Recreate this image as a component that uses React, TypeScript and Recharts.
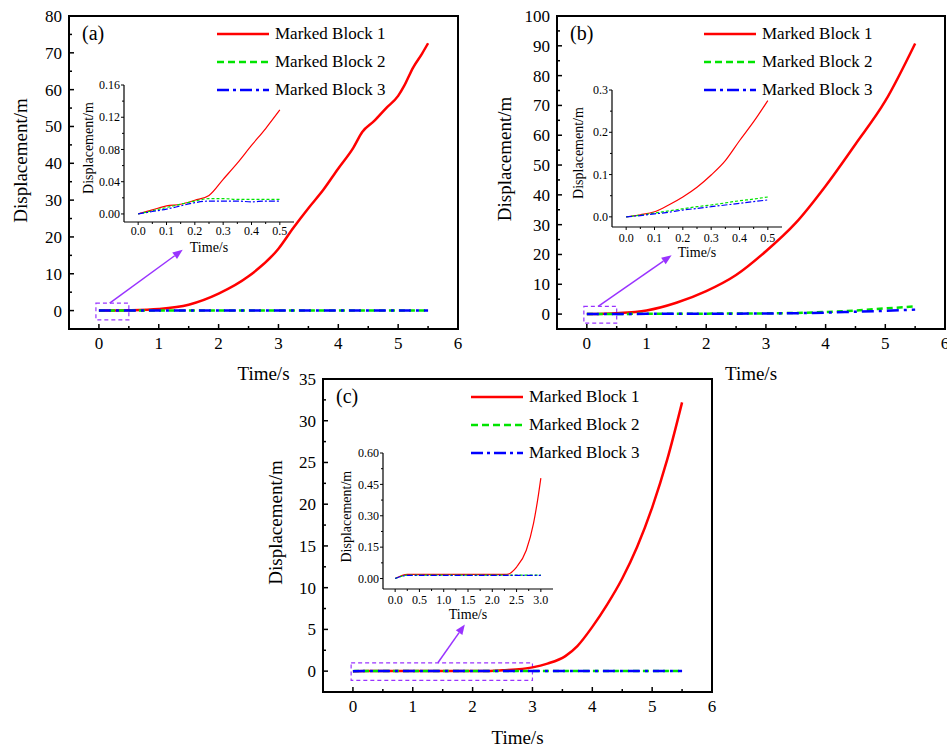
import React from "react";
import {
  LineChart,
  Line,
  XAxis,
  YAxis,
  ReferenceArea,
  ReferenceLine,
  Legend,
} from "recharts";

const FONT = "'Liberation Serif', 'Times New Roman', serif";
const PURPLE = "#9933ff";

// ---- main panel (a)
const timeA1 = [0, 0.5, 1, 1.5, 2, 2.5, 3, 3.25, 3.5, 3.75, 4, 4.25, 4.4, 4.6, 4.8, 5, 5.1, 5.25, 5.4, 5.5];
const block1A = [0, 0.1, 0.45, 1.6, 4.6, 9.3, 16.8, 22.5, 27.8, 32.8, 38.6, 44.2, 48.5, 51.5, 55, 58.3, 61, 66, 69.8, 72.6];
const timeA23 = [0, 0.25, 1, 2, 3, 4, 5, 5.5];
const block2A = [0, 0.02, 0.02, 0.02, 0.02, 0.02, 0.02, 0.02];
const block3A = [0, 0.016, 0.016, 0.016, 0.016, 0.016, 0.016, 0.016];

// ---- main panel (b)
const timeB1 = [0, 0.5, 1, 1.5, 2, 2.5, 3, 3.5, 4, 4.5, 5, 5.5];
const block1B = [0, 0.28, 1.2, 3.8, 7.7, 13.1, 21.1, 30.6, 43, 57, 71.5, 90.8];
const timeB23 = [0, 0.5, 1, 2, 3, 3.5, 4, 4.5, 5, 5.5];
const block2B = [0, 0.05, 0.1, 0.15, 0.25, 0.4, 0.7, 1.2, 1.9, 2.6];
const block3B = [0, 0.04, 0.08, 0.12, 0.2, 0.3, 0.5, 0.8, 1.1, 1.5];

// ---- main panel (c)
const timeC1 = [0, 0.25, 1, 2, 2.3, 2.5, 3, 3.25, 3.55, 3.75, 4, 4.25, 4.5, 4.75, 5, 5.25, 5.5];
const block1C = [0, 0.02, 0.02, 0.02, 0.02, 0.1, 0.45, 0.9, 1.8, 3.0, 5.3, 8.0, 11.1, 14.9, 19.6, 25.3, 32.2];
const timeC23 = [0, 0.25, 1, 2, 3, 4, 5, 5.5];
const block2C = [0, 0.015, 0.015, 0.015, 0.015, 0.015, 0.015, 0.015];
const block3C = [0, 0.014, 0.014, 0.014, 0.014, 0.014, 0.014, 0.014];

// ---- insets (a), (b)
const insetTimeAB = [0, 0.05, 0.1, 0.15, 0.2, 0.25, 0.3, 0.35, 0.4, 0.45, 0.5];
const inset1A = [0, 0.005, 0.01, 0.012, 0.017, 0.023, 0.043, 0.063, 0.085, 0.106, 0.129];
const inset2A = [0, 0.004, 0.008, 0.012, 0.016, 0.019, 0.019, 0.018, 0.018, 0.018, 0.018];
const inset3A = [0, 0.003, 0.006, 0.01, 0.014, 0.016, 0.016, 0.016, 0.015, 0.016, 0.016];
const inset1B = [0, 0.005, 0.012, 0.028, 0.047, 0.07, 0.099, 0.133, 0.18, 0.225, 0.275];
const inset2B = [0, 0.004, 0.009, 0.014, 0.019, 0.024, 0.028, 0.033, 0.038, 0.042, 0.047];
const inset3B = [0, 0.003, 0.007, 0.011, 0.016, 0.02, 0.024, 0.028, 0.032, 0.036, 0.04];

// ---- inset (c)
const insetTimeC = [0, 0.25, 0.5, 1, 1.5, 2, 2.3, 2.5, 2.7, 2.85, 2.95, 3.0];
const inset1C = [0, 0.02, 0.02, 0.02, 0.02, 0.02, 0.02, 0.055, 0.135, 0.265, 0.4, 0.48];
const inset2C = [0, 0.016, 0.016, 0.016, 0.016, 0.016, 0.016, 0.016, 0.016, 0.016, 0.016, 0.016];
const inset3C = [0, 0.015, 0.015, 0.015, 0.015, 0.015, 0.015, 0.015, 0.015, 0.015, 0.015, 0.015];

// ---- ticks
const mainXTicks = [0, 0.5, 1, 1.5, 2, 2.5, 3, 3.5, 4, 4.5, 5, 5.5, 6];
const yTicksA = [0, 5, 10, 15, 20, 25, 30, 35, 40, 45, 50, 55, 60, 65, 70, 75, 80];
const yTicksB = [0, 5, 10, 15, 20, 25, 30, 35, 40, 45, 50, 55, 60, 65, 70, 75, 80, 85, 90, 95, 100];
const yTicksC = [0, 2.5, 5, 7.5, 10, 12.5, 15, 17.5, 20, 22.5, 25, 27.5, 30, 32.5, 35];
const insetXTicksAB = [0, 0.05, 0.1, 0.15, 0.2, 0.25, 0.3, 0.35, 0.4, 0.45, 0.5];
const insetYTicksA = [0, 0.02, 0.04, 0.06, 0.08, 0.1, 0.12, 0.14, 0.16];
const insetYTicksB = [0, 0.05, 0.1, 0.15, 0.2, 0.25, 0.3];
const insetXTicksC = [0, 0.25, 0.5, 0.75, 1, 1.25, 1.5, 1.75, 2, 2.25, 2.5, 2.75, 3];
const insetYTicksC = [0, 0.075, 0.15, 0.225, 0.3, 0.375, 0.45, 0.525, 0.6];

const SERIES = [
  { name: "Marked Block 1", color: "#ff0000", dash: undefined, legendDash: undefined, insetDash: undefined },
  { name: "Marked Block 2", color: "#00e400", dash: "6 4", legendDash: "7 4", insetDash: "3 2" },
  { name: "Marked Block 3", color: "#0000ff", dash: "12 5 3 5", legendDash: "12 4 3 4", insetDash: "6 2 2 2" },
];

type Pt = { t: number; v: number };
const pts = (t: number[], v: number[]): Pt[] => t.map((x, i) => ({ t: x, v: v[i] }));

interface TickCfg {
  side: "left" | "bottom";
  gap: number;
  step: number;
  inward: boolean;
  major: number;
  minor: number;
  size: number;
  digits: number;
  width: number;
}

const makeTick = (c: TickCfg) => (p: any) => {
  const x = Number(p.x);
  const y = Number(p.y);
  const v = Number(p.payload?.value);
  const isMajor = Math.abs(v / c.step - Math.round(v / c.step)) < 1e-6;
  const len = isMajor ? c.major : c.minor;
  const d = c.inward ? 1 : -1;
  const label = isMajor ? v.toFixed(c.digits) : "";
  if (c.side === "left") {
    const ax = x + c.gap;
    return (
      <g>
        <line x1={ax} y1={y} x2={ax + d * len} y2={y} stroke="#000" strokeWidth={c.width} />
        {label && (
          <text x={x} y={y} dy="0.35em" textAnchor="end" fontSize={c.size} fontFamily={FONT} fill="#000">
            {label}
          </text>
        )}
      </g>
    );
  }
  const ay = y - c.gap;
  return (
    <g>
      <line x1={x} y1={ay} x2={x} y2={ay - d * len} stroke="#000" strokeWidth={c.width} />
      {label && (
        <text x={x} y={y} dy="0.71em" textAnchor="middle" fontSize={c.size} fontFamily={FONT} fill="#000">
          {label}
        </text>
      )}
    </g>
  );
};

const yTitle = (text: string, dx: number, dy: number, size: number) => (p: any) => {
  const vb = p.viewBox || {};
  const cx = vb.x + dx;
  const cy = vb.y + vb.height / 2 + dy;
  return (
    <text x={cx} y={cy} transform={`rotate(-90 ${cx} ${cy})`} textAnchor="middle" dominantBaseline="central" fontSize={size} fontFamily={FONT} fill="#000">
      {text}
    </text>
  );
};

const xTitle = (text: string, dy: number, size: number) => (p: any) => {
  const vb = p.viewBox || {};
  return (
    <text x={vb.x + vb.width / 2} y={vb.y + dy} textAnchor="middle" dominantBaseline="central" fontSize={size} fontFamily={FONT} fill="#000">
      {text}
    </text>
  );
};

const Arrow = (p: any) => {
  const { x1, y1, x2, y2 } = p;
  if ([x1, y1, x2, y2].some((v) => typeof v !== "number" || isNaN(v))) return <g />;
  const a = Math.atan2(y2 - y1, x2 - x1);
  const L = 10;
  const W = 4;
  const bx = x2 - L * Math.cos(a);
  const by = y2 - L * Math.sin(a);
  const head = `${x2},${y2} ${bx - W * Math.sin(a)},${by + W * Math.cos(a)} ${bx + W * Math.sin(a)},${by - W * Math.cos(a)}`;
  return (
    <g>
      <line x1={x1} y1={y1} x2={bx} y2={by} stroke={PURPLE} strokeWidth={1.5} />
      <polygon points={head} fill={PURPLE} />
    </g>
  );
};

const legendContent = () => (
  <div style={{ fontFamily: FONT, fontSize: 17, color: "#000" }}>
    {SERIES.map((s) => (
      <div key={s.name} style={{ display: "flex", alignItems: "center", height: 28, whiteSpace: "nowrap" }}>
        <svg width={52} height={10}>
          <line x1={0} y1={5} x2={52} y2={5} stroke={s.color} strokeWidth={2.5} strokeDasharray={s.legendDash} />
        </svg>
        <span style={{ marginLeft: 6 }}>{s.name}</span>
      </div>
    ))}
  </div>
);

const X_DOMAIN: [number, number] = [-0.5, 6];

interface PanelProps {
  left: number;
  top: number;
  width: number;
  height: number;
  marginTop: number;
  marginRight: number;
  yWidth: number;
  xHeight: number;
  yDomain: [number, number];
  yTicks: number[];
  yStep: number;
  series: Pt[][];
  box: { x1: number; x2: number; y1: number; y2: number };
  arrow: { x: number; y: number }[];
  tag: string;
  legendLeft: number;
  legendTop: number;
  yTitleDx: number;
  yTitleDy: number;
  xTitleDy: number;
}

const Panel = (p: PanelProps) => (
  <div style={{ position: "absolute", left: p.left, top: p.top }}>
    <LineChart width={p.width} height={p.height} margin={{ top: p.marginTop, right: p.marginRight, left: 0, bottom: 0 }}>
      <XAxis
        type="number"
        dataKey="t"
        domain={X_DOMAIN}
        allowDataOverflow
        ticks={mainXTicks}
        interval={0}
        tickSize={0}
        tickMargin={8}
        tickLine={false}
        axisLine={false}
        height={p.xHeight}
        tick={makeTick({ side: "bottom", gap: 8, step: 1, inward: true, major: 5, minor: 3, size: 17, digits: 0, width: 1.5 })}
        label={{ content: xTitle("Time/s", p.xTitleDy, 19) }}
      />
      <YAxis
        type="number"
        domain={p.yDomain}
        allowDataOverflow
        ticks={p.yTicks}
        interval={0}
        tickSize={0}
        tickMargin={7}
        tickLine={false}
        axisLine={false}
        width={p.yWidth}
        tick={makeTick({ side: "left", gap: 7, step: p.yStep, inward: true, major: 5, minor: 3, size: 17, digits: 0, width: 1.5 })}
        label={{ content: yTitle("Displacement/m", p.yTitleDx, p.yTitleDy, 19) }}
      />
      <ReferenceArea
        x1={X_DOMAIN[0]}
        x2={X_DOMAIN[1]}
        y1={p.yDomain[0]}
        y2={p.yDomain[1]}
        fill="none"
        fillOpacity={0}
        stroke="#000"
        strokeWidth={2}
        label={{ value: p.tag, position: "insideTopLeft", offset: 13, dy: -3, fontSize: 20, fontFamily: FONT, fill: "#000" }}
      />
      <ReferenceArea
        x1={p.box.x1}
        x2={p.box.x2}
        y1={p.box.y1}
        y2={p.box.y2}
        fill="none"
        fillOpacity={0}
        stroke={PURPLE}
        strokeWidth={1.2}
        strokeDasharray="4 3"
      />
      <ReferenceLine segment={p.arrow} stroke={PURPLE} shape={Arrow} />
      {p.series.map((d, i) => (
        <Line
          key={SERIES[i].name}
          data={d}
          dataKey="v"
          name={SERIES[i].name}
          type="monotone"
          stroke={SERIES[i].color}
          strokeWidth={2.5}
          strokeDasharray={SERIES[i].dash}
          dot={false}
          activeDot={false}
          isAnimationActive={false}
        />
      ))}
      <Legend
        layout="vertical"
        align="center"
        verticalAlign="middle"
        content={legendContent}
        wrapperStyle={{ left: p.legendLeft, top: p.legendTop, width: "auto", height: "auto" }}
      />
    </LineChart>
  </div>
);

interface InsetProps {
  left: number;
  top: number;
  height: number;
  xDomain: [number, number];
  xTicks: number[];
  xStep: number;
  xDigits: number;
  xGap: number;
  yDomain: [number, number];
  yTicks: number[];
  yStep: number;
  yDigits: number;
  series: Pt[][];
  yTitleDx: number;
  yTitleDy: number;
}

const Inset = (p: InsetProps) => (
  <div style={{ position: "absolute", left: p.left, top: p.top }}>
    <LineChart width={226} height={p.height} margin={{ top: 10, right: 6, left: 0, bottom: 0 }}>
      <XAxis
        type="number"
        dataKey="t"
        domain={p.xDomain}
        allowDataOverflow
        ticks={p.xTicks}
        interval={0}
        tickSize={0}
        tickMargin={p.xGap}
        tickLine={false}
        axisLine={{ stroke: "#000", strokeWidth: 1.2 }}
        height={40}
        tick={makeTick({ side: "bottom", gap: p.xGap, step: p.xStep, inward: false, major: 3, minor: 2, size: 12, digits: p.xDigits, width: 1 })}
        label={{ content: xTitle("Time/s", 25, 14) }}
      />
      <YAxis
        type="number"
        domain={p.yDomain}
        allowDataOverflow
        ticks={p.yTicks}
        interval={0}
        tickSize={0}
        tickMargin={4}
        tickLine={false}
        axisLine={{ stroke: "#000", strokeWidth: 1.2 }}
        width={50}
        tick={makeTick({ side: "left", gap: 4, step: p.yStep, inward: false, major: 3, minor: 2, size: 12, digits: p.yDigits, width: 1 })}
        label={{ content: yTitle("Displacement/m", p.yTitleDx, p.yTitleDy, 14) }}
      />
      {p.series.map((d, i) => (
        <Line
          key={SERIES[i].name}
          data={d}
          dataKey="v"
          name={SERIES[i].name}
          type="monotone"
          stroke={SERIES[i].color}
          strokeWidth={1.2}
          strokeDasharray={SERIES[i].insetDash}
          dot={false}
          activeDot={false}
          isAnimationActive={false}
        />
      ))}
    </LineChart>
  </div>
);

export default function App() {
  return (
    <div style={{ position: "absolute", left: 0, top: 0, width: 947, height: 749, background: "#fff", fontFamily: FONT, overflow: "hidden" }}>
      <Panel
        left={0}
        top={0}
        width={470}
        height={390}
        marginTop={16}
        marginRight={12}
        yWidth={69}
        xHeight={61}
        yDomain={[-5, 80]}
        yTicks={yTicksA}
        yStep={10}
        series={[pts(timeA1, block1A), pts(timeA23, block2A), pts(timeA23, block3A)]}
        box={{ x1: -0.05, x2: 0.5, y1: -2.5, y2: 2 }}
        arrow={[{ x: 0.18, y: 2 }, { x: 1.4, y: 16.5 }]}
        tag="(a)"
        legendLeft={217}
        legendTop={20}
        yTitleDx={20}
        yTitleDy={-12}
        xTitleDy={44}
      />
      <Panel
        left={480}
        top={0}
        width={467}
        height={390}
        marginTop={16}
        marginRight={2}
        yWidth={77}
        xHeight={61}
        yDomain={[-5, 100]}
        yTicks={yTicksB}
        yStep={10}
        series={[pts(timeB1, block1B), pts(timeB23, block2B), pts(timeB23, block3B)]}
        box={{ x1: -0.05, x2: 0.5, y1: -3, y2: 2.6 }}
        arrow={[{ x: 0.19, y: 2.6 }, { x: 1.42, y: 19.7 }]}
        tag="(b)"
        legendLeft={224}
        legendTop={20}
        yTitleDx={24.5}
        yTitleDy={-13.5}
        xTitleDy={44}
      />
      <Panel
        left={240}
        top={370}
        width={482}
        height={379}
        marginTop={9}
        marginRight={10}
        yWidth={83}
        xHeight={57}
        yDomain={[-2.5, 35]}
        yTicks={yTicksC}
        yStep={5}
        series={[pts(timeC1, block1C), pts(timeC23, block2C), pts(timeC23, block3C)]}
        box={{ x1: -0.03, x2: 3, y1: -1.1, y2: 1 }}
        arrow={[{ x: 1.42, y: 1 }, { x: 1.87, y: 5.6 }]}
        tag="(c)"
        legendLeft={231}
        legendTop={13}
        yTitleDx={35}
        yTitleDy={-13}
        xTitleDy={45}
      />
      <Inset
        left={74}
        top={75}
        height={187}
        xDomain={[-0.05, 0.55]}
        xTicks={insetXTicksAB}
        xStep={0.1}
        xDigits={1}
        xGap={4}
        yDomain={[-0.01, 0.16]}
        yTicks={insetYTicksA}
        yStep={0.04}
        yDigits={2}
        series={[pts(insetTimeAB, inset1A), pts(insetTimeAB, inset2A), pts(insetTimeAB, inset3A)]}
        yTitleDx={14}
        yTitleDy={-5.5}
      />
      <Inset
        left={562}
        top={80}
        height={187}
        xDomain={[-0.05, 0.55]}
        xTicks={insetXTicksAB}
        xStep={0.1}
        xDigits={1}
        xGap={6}
        yDomain={[-0.024, 0.3]}
        yTicks={insetYTicksB}
        yStep={0.1}
        yDigits={1}
        series={[pts(insetTimeAB, inset1B), pts(insetTimeAB, inset2B), pts(insetTimeAB, inset3B)]}
        yTitleDx={16}
        yTitleDy={-5.5}
      />
      <Inset
        left={333}
        top={443}
        height={186}
        xDomain={[-0.25, 3.25]}
        xTicks={insetXTicksC}
        xStep={0.5}
        xDigits={1}
        xGap={6}
        yDomain={[-0.05, 0.6]}
        yTicks={insetYTicksC}
        yStep={0.15}
        yDigits={2}
        series={[pts(insetTimeC, inset1C), pts(insetTimeC, inset2C), pts(insetTimeC, inset3C)]}
        yTitleDx={13.7}
        yTitleDy={-4.3}
      />
    </div>
  );
}
